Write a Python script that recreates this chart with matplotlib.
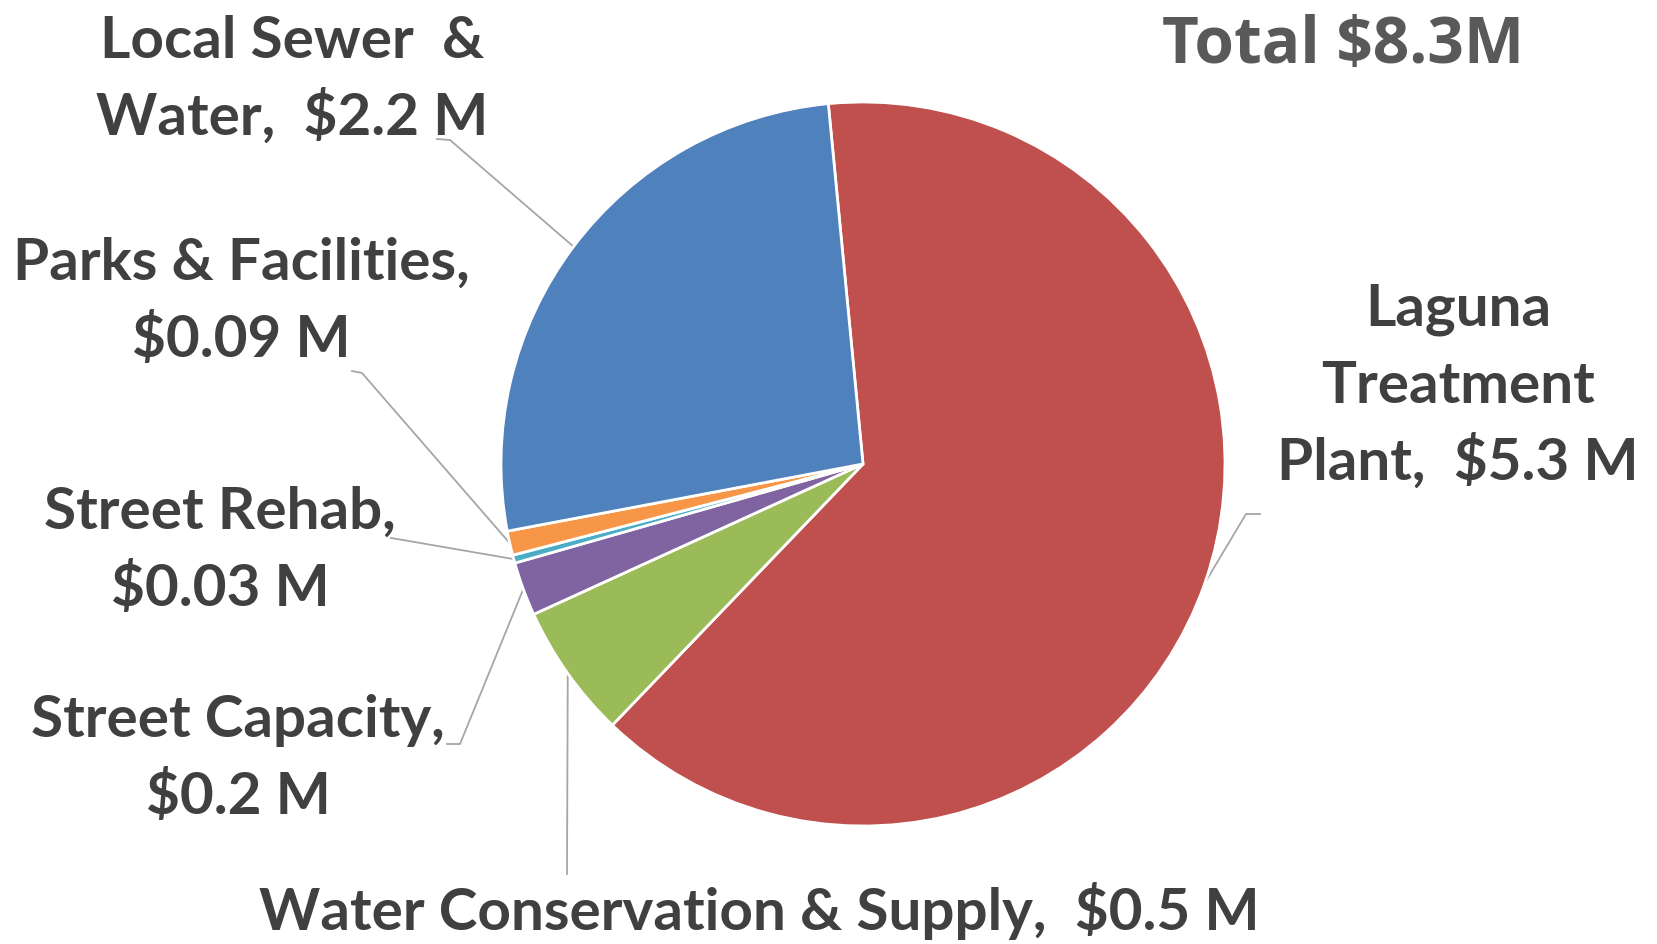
import numpy as np
import matplotlib
matplotlib.use('Agg')
import matplotlib.pyplot as plt

# capital budget by program, $M
labels = ['Laguna\nTreatment\nPlant,  $5.3 M',
          'Water Conservation & Supply,  $0.5 M',
          'Street Capacity,\n$0.2 M',
          'Street Rehab,\n$0.03 M',
          'Parks & Facilities,\n$0.09 M',
          'Local Sewer  &\nWater,  $2.2 M']
values = [5.3, 0.5, 0.2, 0.03, 0.09, 2.2]
colors = ['#C0504D', '#9BBB59', '#8064A2', '#4BACC6', '#F79646', '#4F81BD']
total_text = 'Total $8.3M'

W, H = 1658, 945
cx, cy, R = 863, H - 465, 362

# label layout in pixels (x centre, first baseline from top) and leader line points
lab_pos = [(1458, 326), (759, 930), (238, 737), (220, 529), (241, 280), (292, 58)]
leaders = [[(1260, 515), (1246, 515)],
           [(567, 875)],
           [(447, 745), (460, 745)],
           [(391, 539), (403, 541)],
           [(352, 372), (362, 374)],
           [(437, 140), (450, 141)]]
line_gap = 77

fig = plt.figure(figsize=(W / 100, H / 100), dpi=100)
ax = fig.add_axes([0, 0, 1, 1])
wedges, _ = ax.pie(values, colors=colors, startangle=95.5, counterclock=False,
                   center=(cx, cy), radius=R,
                   wedgeprops=dict(edgecolor='white', linewidth=2))
ax.set_xlim(0, W)
ax.set_ylim(0, H)
ax.set_aspect('equal')
ax.axis('off')

txt = dict(family=['Lato', 'DejaVu Sans'], weight='bold', color='#404040', fontsize=42)
for w, lab, (x, y0), pts in zip(wedges, labels, lab_pos, leaders):
    for k, line in enumerate(lab.split('\n')):
        ax.text(x, H - (y0 + k * line_gap), line, ha='center', va='baseline', **txt)
    mid = np.deg2rad((w.theta1 + w.theta2) / 2)
    ex, ey = cx + R * np.cos(mid), cy + R * np.sin(mid)
    xs = [p[0] for p in pts] + [ex]
    ys = [H - p[1] for p in pts] + [ey]
    ax.plot(xs, ys, color='#A6A6A6', lw=1.3, zorder=0)

ax.text(1343, H - 63, total_text, ha='center', va='baseline',
        family=['Open Sans', 'DejaVu Sans'], weight='bold', color='#595959', fontsize=46)

fig.savefig('out.png', dpi=100)
